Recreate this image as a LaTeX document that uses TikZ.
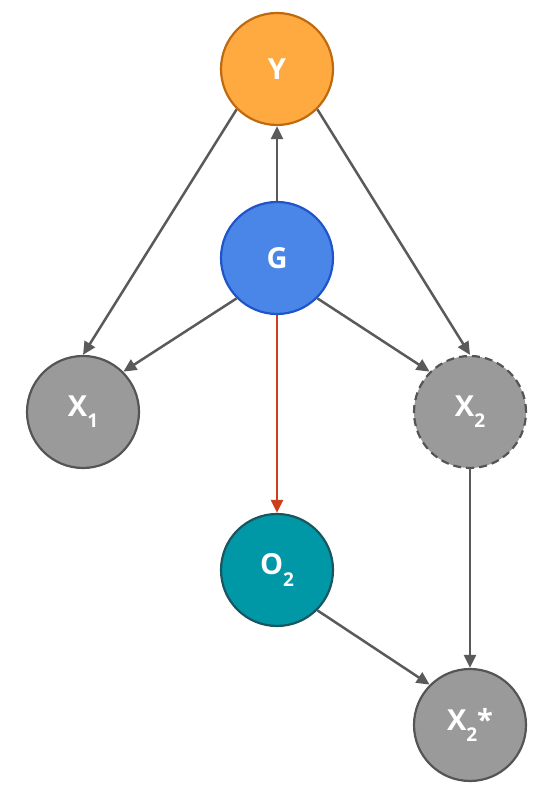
\documentclass[tikz,border=0pt]{standalone}
\usepackage{fontspec}
\setmainfont{Open Sans}
\usetikzlibrary{arrows.meta}
\definecolor{yfill}{HTML}{FFAA40}
\definecolor{ydraw}{HTML}{C06A10}
\definecolor{gfill}{HTML}{4A86E8}
\definecolor{gdraw}{HTML}{1F55C9}
\definecolor{xfill}{HTML}{9A9A9A}
\definecolor{xdraw}{HTML}{555555}
\definecolor{ofill}{HTML}{0097A7}
\definecolor{odraw}{HTML}{1A5560}
\definecolor{redarrow}{HTML}{CC3E1E}
\definecolor{edgegray}{HTML}{5A5A5A}
\newcommand\subt[1]{\raisebox{-0.38em}{\fontsize{19}{19}\selectfont #1}}
\tikzset{
  var/.style={circle, minimum size=112pt, inner sep=0pt, line width=2.2pt, text=white, font=\fontsize{29}{32}\selectfont\bfseries},
  edge/.style={draw=edgegray, line width=2.5pt, -{Triangle[length=13pt,width=12pt]}},
}
\begin{document}
\begin{tikzpicture}[x=1pt,y=1pt]
\useasboundingbox (0,0) rectangle (554,799);
\node[var, fill=yfill, draw=ydraw] (Y) at (277,730) {Y};
\node[var, fill=gfill, draw=gdraw] (G) at (277,541) {G};
\node[var, fill=xfill, draw=xdraw] (X1) at (83,387) {X\subt{1}};
\node[var, fill=xfill, draw=xdraw, dash pattern=on 8pt off 5pt] (X2) at (470,387) {X\subt{2}};
\node[var, fill=ofill, draw=odraw] (O2) at (277,229) {O\subt{2}};
\node[var, fill=xfill, draw=xdraw] (X2s) at (470,74) {X\subt{2}*};
\draw[edge] (G.north) -- (Y.south);
\draw[edge] (Y.south west) -- (X1.north);
\draw[edge] (Y.south east) -- (X2.north);
\draw[edge] (G.south west) -- (X1.north east);
\draw[edge] (G.south east) -- (X2.north west);
\draw[edge, draw=redarrow] (G.south) -- (O2.north);
\draw[edge] (X2.south) -- (X2s.north);
\draw[edge] (O2.south east) -- (X2s.north west);
\end{tikzpicture}
\end{document}
